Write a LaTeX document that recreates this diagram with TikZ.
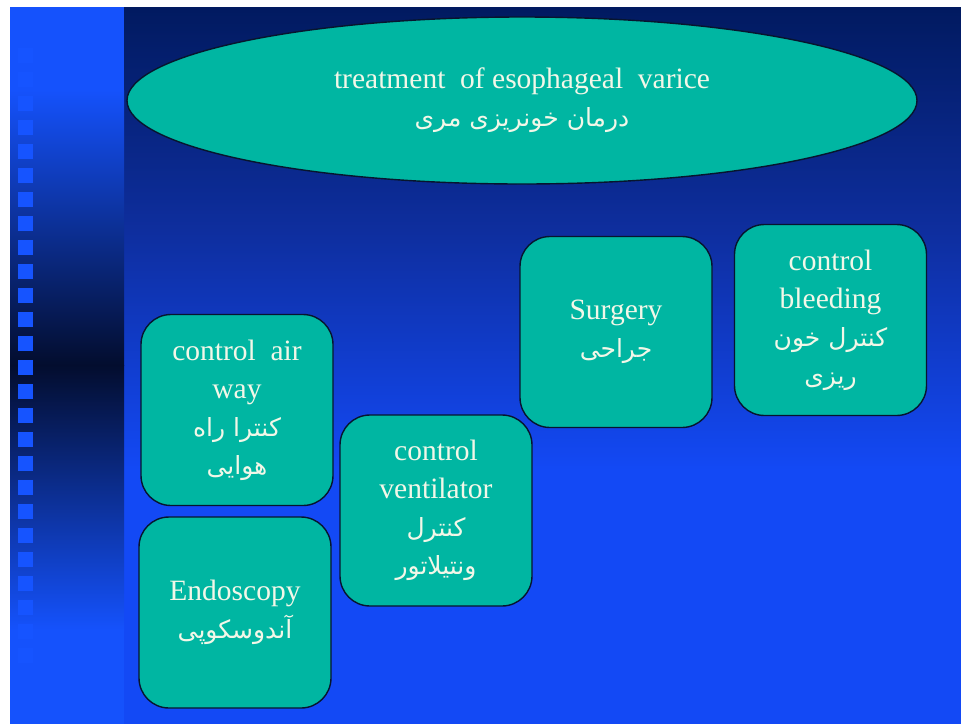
\documentclass[tikz,border=0pt]{standalone}
\usepackage{fontspec}
\setmainfont{Liberation Serif}
\newfontfamily\fa[Script=Arabic]{DejaVu Sans}
\TeXXeTstate=1
\usetikzlibrary{shapes.geometric}
\definecolor{pagewhite}{HTML}{FFFFFF}
\definecolor{slideblue}{HTML}{1349F5}
\definecolor{stripblue}{HTML}{1552FC}
\definecolor{stripdark}{HTML}{030D2E}
\definecolor{navytop}{HTML}{011A60}
\definecolor{navymid}{HTML}{0E2E9E}
\definecolor{squareblue}{HTML}{1654FF}
\definecolor{tealfill}{HTML}{00B6A2}
\definecolor{edgedark}{HTML}{07152E}
\definecolor{labeltext}{HTML}{F2F7E8}
\newcommand{\faline}[1]{{\fa\fontsize{25}{38}\selectfont\beginR #1\endR}}
\tikzset{
  cardbox/.style={draw=edgedark, line width=1.4pt, fill=tealfill,
    rounded corners=30pt, minimum width=192pt, minimum height=191pt,
    text=labeltext, align=center, inner sep=0pt,
    font=\fontsize{29.5}{38}\selectfont},
  titleoval/.style={ellipse, draw=edgedark, line width=1.4pt, fill=tealfill,
    minimum width=790pt, minimum height=167pt, inner sep=0pt,
    text=labeltext, align=center, font=\fontsize{29.5}{40}\selectfont},
  stripsquare/.style={fill=squareblue, draw=none}
}
\begin{document}
\begin{tikzpicture}[x=1pt,y=-1pt]
% page and slide background
\fill[pagewhite] (0,0) rectangle (961,724);
\useasboundingbox (0,0) rectangle (961,724);
% main panel: navy at the top, brightening to blue
\shade[top color=navytop, bottom color=navymid] (124,7) rectangle (961,230);
\shade[top color=navymid, bottom color=slideblue] (124,230) rectangle (961,470);
\fill[slideblue] (124,470) rectangle (961,724);
% left strip: blue, dark band in the middle, blue again
\fill[stripblue] (10,7) rectangle (124,90);
\shade[top color=stripblue, bottom color=stripdark] (10,90) rectangle (124,365);
\shade[top color=stripdark, bottom color=stripblue] (10,365) rectangle (124,630);
\fill[stripblue] (10,630) rectangle (124,724);
% column of small squares
\foreach \k in {0,...,25}
  \fill[stripsquare] (18,48+24*\k) rectangle ++(15,15);
% title
\node[titleoval] (title) at (522,100.5)
  {treatment\ \ of esophageal\ \ varice\\[-2pt] \faline{درمان خونریزی مری}};
% cards
\node[cardbox] (airway) at (237,410)
  {control\ \ air\\ way\\ \faline{کنترا راه}\\ \faline{هوایی}};
\node[cardbox] (endo) at (235,612.5)
  {Endoscopy\\ \faline{آندوسکوپی}};
\node[cardbox] (vent) at (436,510.5)
  {control\\ ventilator\\ \faline{کنترل}\\ \faline{ونتیلاتور}};
\node[cardbox] (surgery) at (616,332)
  {Surgery\\ \faline{جراحی}};
\node[cardbox] (bleeding) at (830.5,320)
  {control\\ bleeding\\ \faline{کنترل خون}\\ \faline{ریزی}};
\end{tikzpicture}
\end{document}
